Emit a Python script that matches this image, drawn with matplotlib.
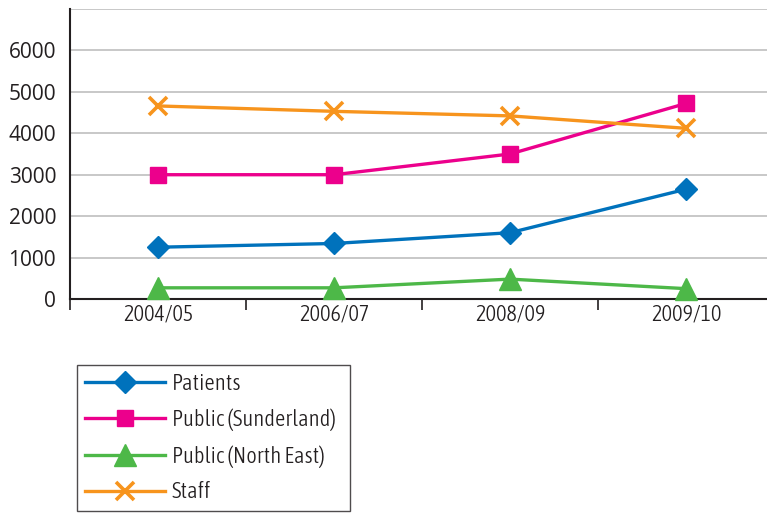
import matplotlib
matplotlib.use("Agg")
import matplotlib.pyplot as plt
from matplotlib import font_manager
import numpy as np


def _w(f):
    w = f.weight
    if isinstance(w, str):
        w = {'light': 300, 'normal': 400, 'regular': 400}.get(w, 700)
    return w


cands = []
for f in font_manager.fontManager.ttflist:
    nm = f.name
    if 'DejaVu' in nm or f.style != 'normal':
        continue
    if 'Narrow' in nm or 'Condensed' in nm or f.stretch in ('condensed', 'semi-condensed'):
        w = _w(f)
        if w in (300, 400):
            cands.append((0 if w == 300 else 1, f.fname, f))
cands.sort(key=lambda t: (t[0], t[1]))
cond = cands[0][2] if cands else None

if cond is not None:
    text_font = font_manager.FontProperties(fname=cond.fname)
    x_fs, leg_fs = 16, 16.3
else:
    text_font = font_manager.FontProperties(family='Open Sans')
    x_fs, leg_fs = 14, 13.2

plt.rcParams['font.family'] = ['Open Sans', 'DejaVu Sans']

categories = ["2004/05", "2006/07", "2008/09", "2009/10"]
patients = [1250, 1340, 1600, 2650]
public_sunderland = [3000, 3000, 3500, 4720]
public_north_east = [270, 270, 480, 250]
staff = [4660, 4530, 4420, 4120]
y_ticks = [0, 1000, 2000, 3000, 4000, 5000, 6000, 7000]
y_labels = ["0", "1000", "2000", "3000", "4000", "5000", "6000", ""]

fig = plt.figure(figsize=(7.67, 5.13), dpi=100)
W, H = 767, 513
ax = fig.add_axes([70 / W, 1 - 299 / H, 704 / W, 290 / H])

x = np.arange(len(categories))
series = [
    ("Patients", patients, "#0072BC", "D", 11.5, 1),
    ("Public (Sunderland)", public_sunderland, "#EC008C", "s", 12, 1),
    ("Public (North East)", public_north_east, "#4DB848", "^", 15.5, 1),
    ("Staff", staff, "#F7941D", "x", 13.5, 2.6),
]
for name, vals, col, mk, ms, mew in series:
    ax.plot(x, vals, color=col, lw=2.4, marker=mk, markersize=ms,
            markeredgewidth=mew, markeredgecolor=col, markerfacecolor=col,
            label=name, clip_on=False, zorder=3)

ax.set_xlim(-0.5, len(categories) - 0.5)
ax.set_ylim(0, 7000)
ax.set_yticks(y_ticks)
ax.set_yticklabels(y_labels)
ax.set_xticks(x)
ax.set_xticklabels(categories)
ax.set_xticks(np.arange(-0.5, len(categories)), minor=True)
ax.tick_params(axis='x', which='major', length=0, pad=3, colors='#231f20')
ax.tick_params(axis='x', which='minor', length=8, width=1.2, direction='out', color='#231f20')
ax.tick_params(axis='y', length=0, pad=10, colors='#231f20')
for lab in ax.get_yticklabels():
    lab.set_fontsize(15)
for lab in ax.get_xticklabels():
    lab.set_fontproperties(text_font)
    lab.set_fontsize(x_fs)
ax.grid(axis='y', color='#c4c4c4', lw=1.3, zorder=0)
ax.set_axisbelow(True)
for s in ['top', 'right']:
    ax.spines[s].set_visible(False)
for s in ['left', 'bottom']:
    ax.spines[s].set_color('#231f20')
    ax.spines[s].set_linewidth(1.5)

lp = text_font.copy()
lp.set_size(leg_fs)
px = leg_fs * 1.389
leg = fig.legend(loc='upper left',
                 bbox_to_anchor=(77 / W, 1 - 511 / H, 273 / W, 146 / H),
                 mode='expand',
                 borderaxespad=0, prop=lp, frameon=True, fancybox=False,
                 edgecolor='#231f20', handlelength=80 / px,
                 labelspacing=(36.5 - px * 1.2) / px + 0.2,
                 borderpad=0.35, handletextpad=7 / px)
leg.get_frame().set_linewidth(1.0)
for t in leg.get_texts():
    t.set_color('#231f20')

fig.savefig("out.png", dpi=100)
